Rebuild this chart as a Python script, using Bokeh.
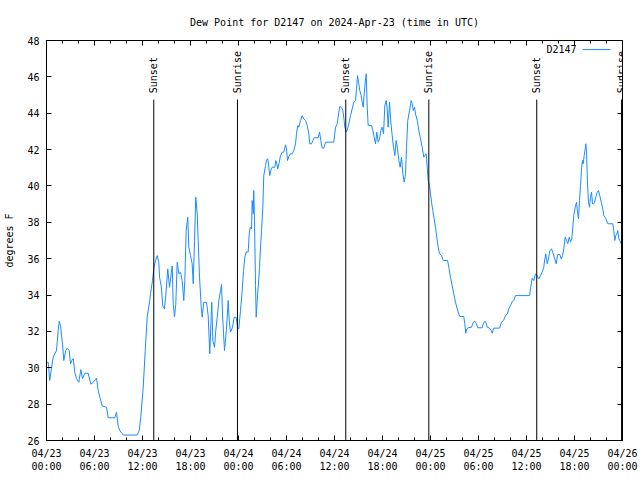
import math
from bokeh.plotting import figure
from bokeh.models import FixedTicker, LinearAxis, Label, Range1d, ColumnDataSource
from bokeh.core.properties import value
from bokeh.embed import file_html
from bokeh.resources import INLINE

# ---- data (hours since 2024-04-23 00:00 UTC, dew point in deg F) ----
hours = [
    0.0, 0.21, 0.41, 0.63, 0.84, 1.25, 1.46, 1.59, 1.75, 2.0, 2.16, 2.41, 2.59, 2.84, 3.0, 3.16, 3.34,
    3.54, 3.75, 4.04, 4.29, 4.5, 4.79, 5.21, 5.54, 5.84, 6.25, 6.46, 6.66, 6.96, 7.5, 7.71, 8.54,
    8.75, 8.96, 9.16, 9.59, 11.34, 11.59, 11.79, 12.09, 12.34, 12.59, 12.91,
    13.0, 13.25, 13.41, 13.63, 13.84, 14.04, 14.13, 14.34, 14.54, 14.75, 14.96, 15.16, 15.38, 15.59,
    15.71, 15.84, 16.0, 16.16, 16.34, 16.54, 16.75, 16.96, 17.16, 17.29, 17.46, 17.66, 17.79, 18.0,
    18.21, 18.34, 18.5, 18.66, 18.84, 18.96, 19.13, 19.34, 19.46, 19.66, 20.0, 20.21, 20.41, 20.59,
    20.66, 20.79, 21.0, 21.16, 21.34, 21.54, 21.75, 21.88, 22.0, 22.13, 22.25, 22.41, 22.59, 22.71,
    22.84, 23.0, 23.25, 23.46, 23.71, 23.88,
    24.04, 24.25, 24.46, 24.63, 24.79, 24.96, 25.21, 25.34, 25.46, 25.63, 25.71, 25.84, 25.91, 26.0,
    26.13, 26.21, 26.34, 26.46, 26.63, 26.75, 26.88, 27.04, 27.16, 27.38, 27.5, 27.66, 27.79, 27.91,
    28.04, 28.21, 28.54, 28.66, 28.79, 28.91, 29.09, 29.25, 29.46, 29.66, 29.88, 30.0, 30.13, 30.29,
    30.5, 30.71, 30.91, 31.13, 31.25, 31.41, 31.54, 31.75, 31.96, 32.16, 32.38, 32.59, 32.79, 32.91,
    33.13, 33.29, 33.46, 33.96, 34.13, 34.29, 34.46, 34.66, 34.88, 35.91,
    36.13, 36.34, 36.54, 36.66, 36.88, 37.04, 37.16, 37.29, 37.46, 37.63, 37.79, 38.0, 38.21, 38.41,
    38.63, 38.75, 38.88, 39.04, 39.16, 39.34, 39.46, 39.59, 39.71, 39.84, 39.96, 40.09, 40.21, 40.63,
    40.79, 40.96, 41.13, 41.29, 41.46, 41.63, 41.79, 41.96, 42.13, 42.29, 42.46, 42.59, 42.71, 42.88,
    43.04, 43.21, 43.38, 43.54, 43.71, 43.88, 44.04, 44.21, 44.38, 44.54, 44.71, 44.88, 45.0, 45.16,
    45.38, 45.59, 45.71, 45.84, 46.0, 46.13, 46.34, 46.54, 46.75, 46.96, 47.16,
    47.46, 47.59, 47.71, 47.88, 48.0, 48.13, 48.29, 48.46, 48.63, 48.79, 48.96, 49.13, 49.38, 49.59,
    50.13, 50.29, 50.5, 50.71, 50.91, 51.13, 51.34, 51.54, 51.66, 52.16, 52.29, 52.41, 52.54, 52.71,
    53.13, 53.34, 53.54, 53.75, 53.91, 54.46, 54.66, 54.88, 55.09, 55.38, 55.59, 55.71, 55.91, 56.63,
    56.88, 57.16, 57.38, 57.59, 57.79, 58.0, 58.21, 58.41, 58.63, 60.38,
    60.59, 60.71, 60.91, 61.13, 61.34, 61.54, 61.75, 61.96, 62.16, 62.29, 62.41, 62.59, 62.75, 62.91,
    63.13, 63.34, 63.54, 63.71, 63.91, 64.16, 64.34, 64.5, 64.66, 64.84, 65.0, 65.16, 65.34, 65.5,
    65.66, 65.79, 65.91, 66.09, 66.25, 66.38, 66.5, 66.63, 66.75, 66.88, 67.0, 67.09, 67.21, 67.34,
    67.41, 67.5, 67.63, 67.75, 67.88, 68.0, 68.13, 68.25, 68.38, 68.5, 68.66, 68.84, 69.0, 69.16,
    69.34, 69.5, 69.66, 69.88, 70.16, 70.79, 70.91, 71.04, 71.16, 71.29, 71.41, 71.54, 71.66, 71.84,
]
dew_point_f = [
    30.3, 30.3, 29.3, 30.0, 30.6, 30.95, 32.05, 32.56, 32.3, 31.3, 30.4, 30.95, 31.07, 30.95, 30.2, 30.4, 30.5,
    29.75, 29.4, 29.2, 29.9, 29.4, 29.7, 29.7, 29.1, 29.2, 29.43, 28.75, 28.4, 27.9, 27.83, 27.25, 27.25,
    27.55, 26.8, 26.55, 26.3, 26.3, 26.55, 27.3, 28.93, 30.95, 32.8, 33.7,
    34.07, 34.8, 35.44, 35.9, 36.17, 35.8, 34.98, 34.5, 33.4, 33.24, 34.25, 35.44, 34.43, 35.17,
    35.6, 33.5, 32.8, 33.5, 35.8, 35.17, 35.26, 34.8, 33.7, 34.8, 37.55, 38.28, 36.63, 36.17,
    35.72, 34.62, 37.0, 39.38, 38.47, 37.0, 34.98, 33.33, 32.78, 33.6, 33.6, 32.87, 30.77, 32.87,
    33.6, 31.5, 31.13, 32.05, 32.78, 33.7, 34.25, 34.58, 32.96, 31.87, 30.95, 31.68, 32.78, 33.7,
    32.6, 31.96, 32.23, 32.78, 32.78, 32.23,
    32.14, 33.15, 34.25, 35.35, 36.08, 36.36, 36.36, 37.37, 37.73, 37.64, 39.2, 38.47, 39.75, 38.1,
    34.52, 32.78, 33.7, 34.43, 35.53, 36.63, 37.55, 38.83, 40.57, 41.12, 41.44, 41.49, 41.03, 40.57,
    40.85, 41.03, 41.03, 41.4, 41.22, 40.94, 41.3, 41.67, 41.86, 41.86, 42.26, 42.04, 41.4, 41.62,
    41.77, 41.77, 41.95, 42.32, 42.87, 43.32, 43.23, 43.6, 43.87, 43.69, 43.6, 43.32, 42.87, 42.32,
    42.32, 42.5, 42.65, 42.65, 42.96, 42.5, 42.08, 42.08, 42.41, 42.41,
    43.23, 43.42, 44.06, 44.37, 44.33, 44.15, 43.78, 43.23, 42.96, 43.14, 43.42, 43.87, 44.24, 44.61,
    44.7, 45.34, 46.07, 45.62, 45.25, 44.98, 44.61, 44.33, 45.07, 45.7, 46.17, 44.33, 43.32, 43.32,
    43.05, 42.68, 42.32, 42.96, 42.41, 42.59, 43.05, 43.23, 42.87, 44.42, 44.7, 44.24, 43.23, 44.61,
    43.51, 42.78, 42.13, 41.67, 42.5, 42.04, 41.4, 41.03, 41.58, 40.67, 40.21, 40.67, 42.13, 43.6,
    44.15, 44.7, 44.52, 44.15, 44.33, 43.96, 43.6, 43.05, 42.59, 42.13, 41.58,
    41.77, 41.03, 40.3, 40.02, 39.57, 39.1, 38.65, 38.19, 37.73, 37.18, 36.63, 36.27, 36.17, 35.9,
    35.9, 35.53, 34.98, 34.52, 34.07, 33.6, 33.24, 32.96, 32.82, 32.82, 32.42, 31.9, 32.14, 32.2,
    32.23, 32.5, 32.56, 32.42, 32.2, 32.2, 32.5, 32.56, 32.23, 32.18, 32.05, 31.9, 32.18, 32.18,
    32.5, 32.64, 32.87, 32.96, 33.24, 33.42, 33.64, 33.7, 33.97, 33.97,
    34.62, 34.93, 34.8, 35.17, 35.07, 34.89, 35.07, 35.26, 35.53, 35.99, 36.27, 35.72, 35.99, 36.45,
    36.54, 36.27, 35.99, 35.72, 36.23, 36.23, 35.99, 36.17, 36.54, 37.18, 37.0, 36.82, 37.18, 36.91,
    37.09, 37.73, 38.37, 38.83, 39.1, 38.56, 38.19, 39.2, 40.02, 40.94, 41.4, 41.22, 41.67, 42.04,
    42.32, 41.95, 40.12, 39.1, 38.83, 39.38, 39.66, 39.02, 39.02, 39.1, 39.38, 39.66, 39.75, 39.47,
    39.1, 38.83, 38.37, 38.24, 37.92, 37.92, 37.55, 37.0, 37.27, 37.37, 37.55, 37.09, 37.0, 36.82,
]
sun_event_hours = [13.41, 23.87, 37.41, 47.79, 61.28, 71.88]
sun_event_names = ["Sunset", "Sunrise", "Sunset", "Sunrise", "Sunset", "Sunrise"]
x_tick_hours = [0, 6, 12, 18, 24, 30, 36, 42, 48, 54, 60, 66, 72]
x_tick_labels = ["04/23\n00:00", "04/23\n06:00", "04/23\n12:00", "04/23\n18:00",
                 "04/24\n00:00", "04/24\n06:00", "04/24\n12:00", "04/24\n18:00",
                 "04/25\n00:00", "04/25\n06:00", "04/25\n12:00", "04/25\n18:00",
                 "04/26\n00:00"]
x_minor_hours = [h for h in range(0, 73, 2) if h % 6 != 0]
y_ticks = [26, 28, 30, 32, 34, 36, 38, 40, 42, 44, 46, 48]
series_name = "D2147"
title_text = "Dew Point for D2147 on 2024-Apr-23 (time in UTC)"

FONT = "DejaVu Sans Mono"
LINE_COLOR = "#1a8cff"

p = figure(width=640, height=480, output_backend="svg", toolbar_location=None,
           x_range=Range1d(0, 72), y_range=Range1d(26, 48),
           min_border_left=46, min_border_right=18, min_border_top=40, min_border_bottom=40,
           title=title_text)
p.title.text_font = FONT
p.title.text_font_size = "10px"
p.title.text_font_style = "normal"
p.title.text_color = "black"
p.title.align = "center"
p.title.standoff = 25

p.xgrid.visible = False
p.ygrid.visible = False
p.outline_line_color = "black"
p.outline_line_width = 1
p.background_fill_color = "white"
p.border_fill_color = "white"

xt = FixedTicker(ticks=x_tick_hours, minor_ticks=x_minor_hours)
yt = FixedTicker(ticks=y_ticks, minor_ticks=[])

def style_axis(ax, labels=True):
    ax.axis_line_color = "black"
    ax.major_tick_in = 5
    ax.major_tick_out = 0
    ax.minor_tick_in = 3
    ax.minor_tick_out = 0
    ax.major_tick_line_color = "black"
    ax.minor_tick_line_color = "black"
    ax.major_label_text_font = FONT
    ax.major_label_text_font_size = "10px" if labels else "0px"
    ax.major_label_text_color = "black"
    if not labels:
        ax.major_label_standoff = 0

xa = p.xaxis[0]
xa.ticker = xt
xa.major_label_overrides = {h: lab for h, lab in zip(x_tick_hours, x_tick_labels)}
style_axis(xa)
xa.major_label_standoff = 7

ya = p.yaxis[0]
ya.ticker = yt
style_axis(ya)
ya.major_label_standoff = 7
ya.axis_label = "degrees F"
ya.axis_label_text_font = FONT
ya.axis_label_text_font_size = "10px"
ya.axis_label_text_font_style = "normal"
ya.axis_label_text_color = "black"
ya.axis_label_standoff = 9

top = LinearAxis(ticker=FixedTicker(ticks=x_tick_hours, minor_ticks=x_minor_hours))
style_axis(top, labels=False)
top.major_label_overrides = {h: "" for h in x_tick_hours}
p.add_layout(top, "above")
right = LinearAxis(ticker=FixedTicker(ticks=y_ticks, minor_ticks=[]))
style_axis(right, labels=False)
right.major_label_overrides = {v: "" for v in y_ticks}
p.add_layout(right, "right")

# data line
src = ColumnDataSource(dict(x=hours, y=dew_point_f))
p.line("x", "y", source=src, line_color=LINE_COLOR, line_width=1)

# sunrise / sunset markers
line_top = 44.75
p.segment(x0=sun_event_hours, y0=[26] * len(sun_event_hours),
          x1=sun_event_hours, y1=[line_top] * len(sun_event_hours),
          line_color="black", line_width=1)
p.text(x=sun_event_hours, y=[45.1] * len(sun_event_hours), text=sun_event_names,
       angle=math.pi / 2, text_align="left", text_baseline="middle",
       text_font=value(FONT), text_font_size="10px", text_color="black")

# legend (gnuplot style: label then sample line)
p.add_layout(Label(x=66.25, y=47.5, text=series_name, text_align="right", text_baseline="middle",
                   text_font=FONT, text_font_size="10px", text_color="black"))
p.segment(x0=[67.0], y0=[47.5], x1=[70.5], y1=[47.5], line_color=LINE_COLOR, line_width=1)

open("out.html", "w").write(file_html(p, INLINE))
